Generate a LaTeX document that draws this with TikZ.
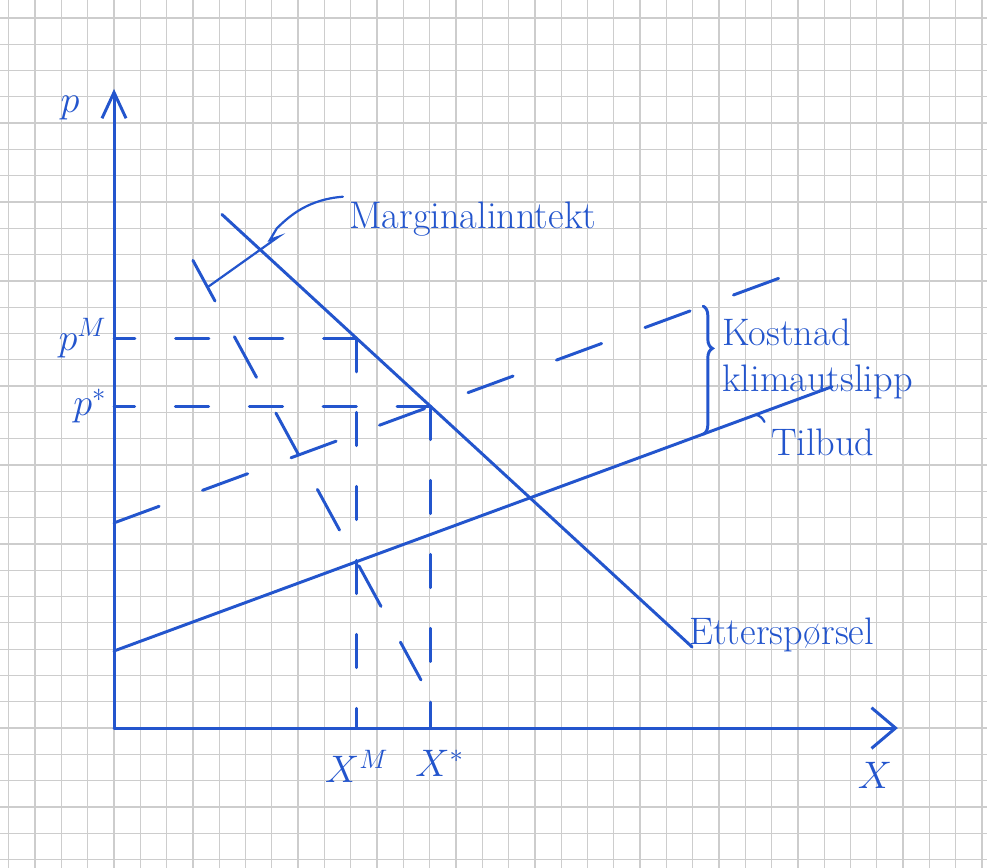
\documentclass[tikz,border=0pt]{standalone}
\usetikzlibrary{arrows.meta,positioning,decorations.pathreplacing}
\definecolor{ink}{RGB}{35,85,205}
\definecolor{paper}{RGB}{205,205,205}

\begin{document}
\begin{tikzpicture}[x=0.5cm, y=0.5cm,
    ink/.style={draw=ink, line width=1.6pt, line cap=round},
    guide/.style={ink, dash pattern=on 18pt off 22pt},
    lbl/.style={text=ink, font=\huge},
  ]
    % squared paper
    \useasboundingbox (-4.335,-5.32) rectangle (33.19,27.68);
    \fill[white] (-4.335,-5.32) rectangle (33.19,27.68);
    \foreach \i in {-4,...,33}
        \draw[paper, line width=0.7pt] (\i,-5.32) -- (\i,27.68);
    \foreach \j in {-5,...,27}
        \draw[paper, line width=0.7pt] (-4.335,\j) -- (33.19,\j);

    % axes
    \coordinate (O) at (0,0);
    \coordinate (Ytop) at (0,24.3);
    \coordinate (Xend) at (29.8,0);
    \draw[ink, -{Straight Barb[length=14pt, width=13pt]}] (O) -- (Ytop);
    \draw[ink, -{Straight Barb[length=13pt, width=22pt]}] (O) -- (Xend);
    \node[lbl] (plab) at (-1.67,23.57) {$p$};
    \node[lbl] (xlab) at (28.93,-1.79) {$X$};

    % supply, supply + climate cost, demand, marginal revenue
    \coordinate (S1) at (0,2.93);
    \coordinate (S2) at (27.3,12.98);
    \coordinate (K1) at (0,7.8);
    \coordinate (K2) at (25.44,17.16);
    \coordinate (D1) at (4.1,19.53);
    \coordinate (D2) at (21.98,3.08);
    \coordinate (M1) at (3.0,17.78);
    \coordinate (M2) at (11.67,1.83);
    \draw[ink] (S1) -- (S2);
    \draw[ink, dash pattern=on 26pt off 25pt] (K1) -- (K2);
    \draw[ink] (D1) -- (D2);
    \draw[ink, dash pattern=on 25pt off 22pt] (M1) -- (M2);

    % monopoly and optimum
    \coordinate (EM) at (9.23,14.81);
    \coordinate (Es) at (12.03,12.23);
    \draw[guide] (EM) -- (EM -| O) node[lbl, left] (pMlab) {$p^M$};
    \draw[guide] (EM) -- (EM |- O) node[lbl, below=8pt] (xMlab) {$X^M$};
    \draw[guide] (Es) -- (Es -| O) node[lbl, left] (pslab) {$p^*$};
    \draw[guide] (Es) -- (Es |- O) node[lbl, below=8pt, xshift=5pt] (xslab) {$X^*$};

    % climate cost brace
    \coordinate (B1) at (22.4,16.04);
    \coordinate (B2) at (22.4,11.17);
    \draw[ink, decorate, decoration={brace, amplitude=5pt, aspect=0.33}] (B1) -- (B2);
    \node[lbl, anchor=north west, align=left] (cost) at (22.88,15.8) {Kostnad\\klimautslipp};

    % labels
    \node[lbl, anchor=base west] (sup) at (24.73,10.38) {Tilbud};
    \coordinate (St) at (24.4,11.91);
    \draw[ink, line width=1.2pt] (sup.north west) to[bend right=25] (St);
    \node[lbl, anchor=base west] (dem) at (21.62,3.16) {Etterspørsel};
    \node[lbl, anchor=base west] (mr) at (8.7,19.0) {Marginalinntekt};
    \coordinate (Mt) at (3.57,16.77);
    \draw[ink, line width=1.2pt] ([yshift=12pt]mr.west) .. controls (7.4,20.1) and (6.7,19.5) .. (6.19,19.0)
        -- (5.93,18.56) -- (6.24,18.67) -- (Mt);
\end{tikzpicture}
\end{document}
